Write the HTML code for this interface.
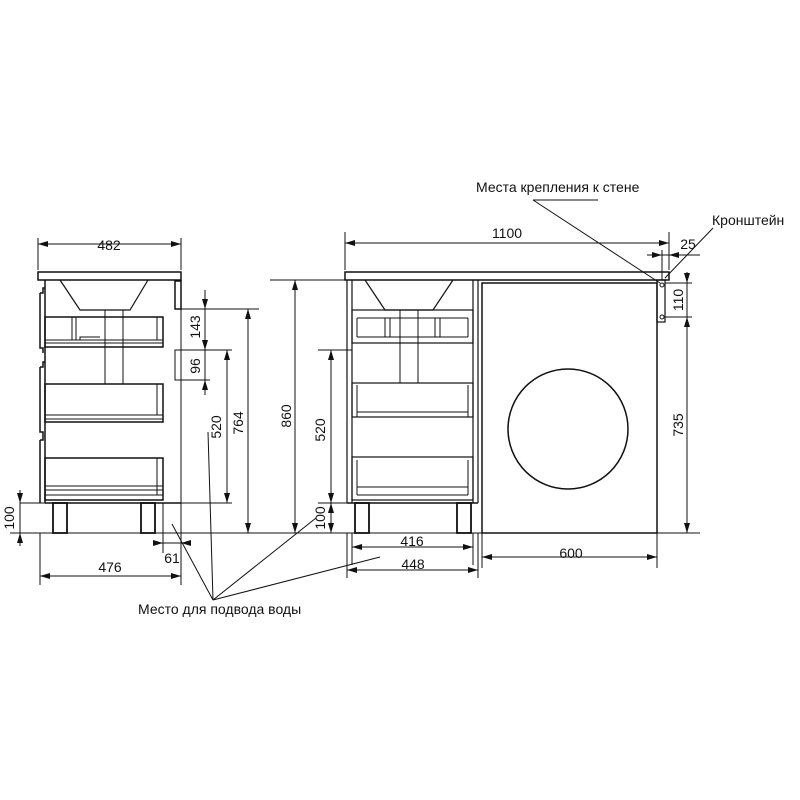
<!DOCTYPE html>
<html><head><meta charset="utf-8"><style>body{margin:0;background:#fff}svg{display:block}text{font-family:"Liberation Sans",Arial,sans-serif;fill:#111}</style></head>
<body>
<svg width="800" height="800" viewBox="0 0 800 800" xmlns="http://www.w3.org/2000/svg">
<defs>
<marker id="a" viewBox="0 0 10 6" refX="10" refY="3" markerWidth="10" markerHeight="6" orient="auto-start-reverse" markerUnits="userSpaceOnUse"><path d="M0,0L10,3L0,6z" fill="#111"/></marker>
</defs>
<g fill="none" stroke="#111" stroke-width="1">
<rect x="38" y="272" width="143" height="8" stroke-width="1.5"/>
<line x1="45" y1="280" x2="45" y2="503" stroke-width="1.5"/>
<line x1="181" y1="280" x2="181" y2="533" stroke-width="1"/>
<line x1="45" y1="503" x2="181" y2="503" stroke-width="1.5"/>
<path d="M40,293h3v-5h2M40,293v55h3v5M40,367h3v-5h2M40,367v65h3v5M40,440h3v-5M40,440v63" stroke-width="1.5"/>
<rect x="175" y="281" width="6" height="28" stroke-width="1.5"/>
<rect x="175" y="350" width="6" height="30" stroke-width="1"/>
<path d="M60,280L80,310H130L148,280" stroke-width="1.2"/>
<path d="M105,310V384M123,310V384"/>
<rect x="45" y="317" width="118" height="30" stroke-width="1.5"/>
<path d="M72,317v23M76,317v23M157,317v23M45,340H163M45,343H163M80,340v-3H100" />
<rect x="45" y="384" width="118" height="38" stroke-width="1.5"/>
<path d="M157,384v31M45,415H163M45,419H163"/>
<rect x="45" y="458" width="118" height="42" stroke-width="1.5"/>
<path d="M157,458v37M45,486H163M45,490H163M45,495H163"/>
<rect x="53" y="503" width="14" height="30" stroke-width="1.8"/>
<rect x="141" y="503" width="14" height="30" stroke-width="1.8"/>
<line x1="10" y1="533" x2="700" y2="533"/>
<path d="M38,238V270M181,238V270"/>
<line x1="38" y1="244" x2="181" y2="244" marker-start="url(#a)" marker-end="url(#a)"/>
<path d="M181,309H259M181,350H232M181,380H210M205,290V395"/>
<line x1="205" y1="292" x2="205" y2="309" marker-end="url(#a)"/>
<line x1="205" y1="333" x2="205" y2="350" marker-end="url(#a)"/>
<line x1="205" y1="395" x2="205" y2="380" marker-end="url(#a)"/>
<line x1="227" y1="350" x2="227" y2="503" marker-start="url(#a)" marker-end="url(#a)"/>
<line x1="181" y1="503" x2="232" y2="503"/>
<line x1="248" y1="309" x2="248" y2="533" marker-start="url(#a)" marker-end="url(#a)"/>
<line x1="270" y1="280" x2="345" y2="280"/>
<line x1="295" y1="280" x2="295" y2="533" marker-start="url(#a)" marker-end="url(#a)"/>
<line x1="20" y1="503" x2="45" y2="503"/>
<line x1="20" y1="490" x2="20" y2="503" marker-end="url(#a)"/>
<line x1="20" y1="546" x2="20" y2="533" marker-end="url(#a)"/>
<line x1="20" y1="490" x2="20" y2="546"/>
<path d="M163,503V553M40,533V585M181,533V585"/>
<line x1="153" y1="543" x2="163" y2="543" marker-end="url(#a)"/>
<line x1="191" y1="543" x2="181" y2="543" marker-end="url(#a)"/>
<line x1="153" y1="543" x2="191" y2="543"/>
<line x1="40" y1="576" x2="181" y2="576" marker-start="url(#a)" marker-end="url(#a)"/>
<rect x="345" y="272" width="324" height="8" stroke-width="1.5"/>
<path d="M347,280V503M352,280V503M473,280V503M478,280V503" stroke-width="1.2"/>
<line x1="347" y1="503" x2="478" y2="503" stroke-width="1.5"/>
<path d="M365,280L385,310H433L453,280" stroke-width="1.2"/>
<path d="M400,310V383M418,310V383"/>
<rect x="352" y="310" width="121" height="33" stroke-width="1.2"/>
<path d="M357,318V337M385,318V337M390,318V337M435,318V337M440,318V337M468,318V337M357,318H468M357,337H468"/>
<rect x="352" y="383" width="121" height="34" stroke-width="1.2"/>
<path d="M357,385V417M468,385V417M357,412H468"/>
<rect x="352" y="457" width="121" height="43" stroke-width="1.2"/>
<path d="M357,460V495M468,460V495M357,487H468M357,495H468"/>
<rect x="355" y="503" width="14" height="30" stroke-width="1.8"/>
<rect x="457" y="503" width="14" height="30" stroke-width="1.8"/>
<rect x="482" y="283" width="175" height="250" stroke-width="1.5"/>
<circle cx="568" cy="429" r="60" stroke-width="1.5"/>
<rect x="657" y="280" width="8" height="42" stroke-width="1.2"/>
<circle cx="662" cy="285" r="2"/><circle cx="662" cy="317" r="2"/>
<path d="M345,232V270M669,232V270"/>
<line x1="345" y1="243" x2="669" y2="243" marker-start="url(#a)" marker-end="url(#a)"/>
<path d="M662,250V280M651,255H700"/>
<line x1="647" y1="255" x2="662" y2="255" marker-end="url(#a)"/>
<line x1="684" y1="255" x2="669" y2="255" marker-end="url(#a)"/>
<path d="M665,283H692M665,317H692M657,533H700"/>
<line x1="687" y1="272" x2="687" y2="283" marker-end="url(#a)"/>
<line x1="687" y1="283" x2="687" y2="317"/>
<line x1="687" y1="317" x2="687" y2="533" marker-start="url(#a)" marker-end="url(#a)"/>
<path d="M318,350H352M318,503H352"/>
<line x1="331" y1="350" x2="331" y2="503" marker-start="url(#a)" marker-end="url(#a)"/>
<line x1="331" y1="503" x2="331" y2="533" marker-start="url(#a)" marker-end="url(#a)"/>
<path d="M352,533V565M347,533V578M473,533V565M478,533V578M482,533V568M657,533V568"/>
<line x1="352" y1="547" x2="473" y2="547" marker-start="url(#a)" marker-end="url(#a)"/>
<line x1="347" y1="570" x2="478" y2="570" marker-start="url(#a)" marker-end="url(#a)"/>
<line x1="482" y1="557" x2="657" y2="557" marker-start="url(#a)" marker-end="url(#a)"/>
<path d="M533,200H598M533,200L660,283M713,228L665,278"/>
<path d="M213,600L172,524M213,600L208,432M213,600L316,518M213,600L380,557"/>
</g>
<g font-size="14">
<text x="109" y="250" text-anchor="middle">482</text>
<text x="110" y="572" text-anchor="middle">476</text>
<text x="172" y="563" text-anchor="middle">61</text>
<text x="507" y="238" text-anchor="middle">1100</text>
<text x="688" y="249" text-anchor="middle">25</text>
<text x="412" y="546" text-anchor="middle">416</text>
<text x="413" y="569" text-anchor="middle">448</text>
<text x="571" y="558" text-anchor="middle">600</text>
<text transform="translate(200,327) rotate(-90)" text-anchor="middle">143</text>
<text transform="translate(200,366) rotate(-90)" text-anchor="middle">96</text>
<text transform="translate(221,427) rotate(-90)" text-anchor="middle">520</text>
<text transform="translate(243,423) rotate(-90)" text-anchor="middle">764</text>
<text transform="translate(291,416) rotate(-90)" text-anchor="middle">860</text>
<text transform="translate(14,518) rotate(-90)" text-anchor="middle">100</text>
<text transform="translate(325,430) rotate(-90)" text-anchor="middle">520</text>
<text transform="translate(325,518) rotate(-90)" text-anchor="middle">100</text>
<text transform="translate(683,300) rotate(-90)" text-anchor="middle">110</text>
<text transform="translate(683,425) rotate(-90)" text-anchor="middle">735</text>
<text x="476" y="192">Места крепления к стене</text>
<text x="712" y="225">Кронштейн</text>
<text x="138" y="614">Место для подвода воды</text>
</g>
</svg>
</body></html>
